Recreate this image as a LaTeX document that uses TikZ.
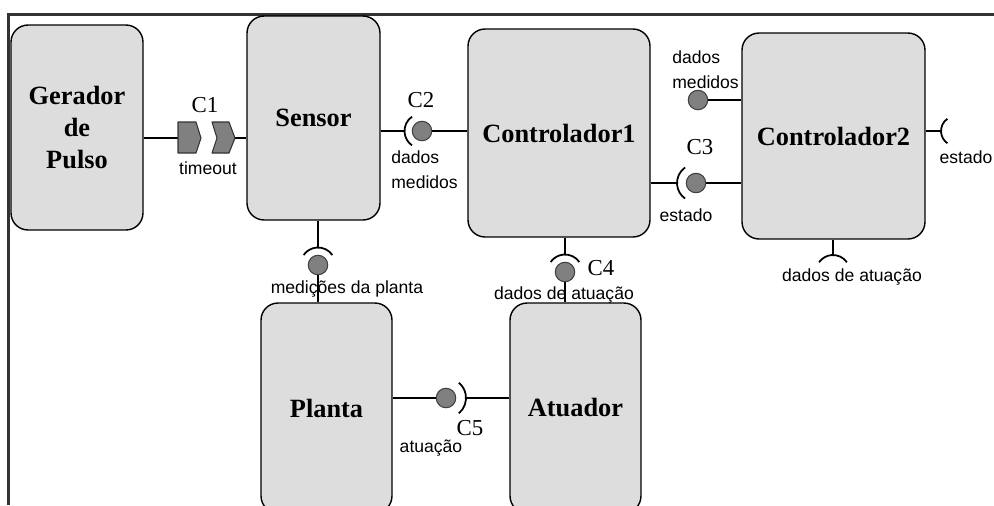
\documentclass[tikz,border=0pt]{standalone}
\usepackage{fontspec}
\setmainfont{Liberation Serif}
\setsansfont{Liberation Sans}
\usepackage{tikz}
\usetikzlibrary{positioning}
\tikzset{
  compbox/.style={draw, rounded corners=0.34cm, line width=0.8pt, fill=gray!27, align=center, inner sep=0pt, font=\fontsize{15}{18}\selectfont\bfseries},
  ball/.style={circle, draw=black!75, fill=black!50, line width=0.6pt, minimum size=0.39cm, inner sep=0pt},
  plug/.style={draw=black!80, fill=black!50, line width=0.6pt, line join=round},
  wire/.style={line width=0.8pt},
  cup/.style={line width=1pt},
  portlabel/.style={font=\sffamily\fontsize{10}{14}\selectfont, inner sep=0pt, align=left},
  connlabel/.style={font=\fontsize{13}{15}\selectfont, inner sep=0pt},
  frameline/.style={line width=1.5pt, black!80}
}

\begin{document}
\begin{tikzpicture}[x=0.02cm, y=-0.02cm]
  \useasboundingbox (0,0) rectangle (994,505);
  \clip (0,0) rectangle (994,505);
  \coordinate (ftl) at (8.5,14.5);
  \coordinate (ftr) at (994,14.5);
  \coordinate (fbl) at (8.5,505);
  \draw[frameline] (ftr) -- (ftl) -- (fbl);

  \node[compbox, minimum width=2.64cm, minimum height=4.1cm] (gerador) at (77,127.5) {Gerador\\de\\Pulso};
  \node[compbox, minimum width=2.66cm, minimum height=4.08cm] (sensor) at (313.5,118) {Sensor};
  \node[compbox, minimum width=3.64cm, minimum height=4.16cm] (ctrlum) at (559,133) {Controlador1};
  \node[compbox, minimum width=3.66cm, minimum height=4.12cm] (ctrldois) at (833.5,136) {Controlador2};
  \node[compbox, minimum width=2.62cm, minimum height=4.2cm] (planta) at (326.5,408) {Planta};
  \node[compbox, minimum width=2.62cm, minimum height=4.2cm] (atuador) at (575.5,408) {Atuador};

  \node[ball] (bdois) at (422,131) {};
  \node[ball] (btres) at (696,183) {};
  \node[ball] (bmed) at (698,100) {};
  \node[ball] (bquatro) at (565,272) {};
  \node[ball] (bplanta) at (318,265) {};
  \node[ball] (bcinco) at (446,398) {};
  \coordinate (cum) at (206,138);
  \coordinate (sestado) at (956,131);
  \coordinate (satua) at (833,272);

  \draw[wire] (gerador.east |- cum) -- ([xshift=-0.56cm]cum);
  \begin{scope}[shift={(cum)}]
    \draw[plug] (-28,-16) -- (-10,-16) -- (-5,0) -- (-10,15) -- (-28,15) -- cycle;
    \draw[plug] (6,-16) -- (23,-16) -- (29,0) -- (23,15) -- (6,15) -- (11,0) -- cycle;
  \end{scope}
  \draw[wire] ([xshift=0.58cm]cum) -- (sensor.west |- cum);

  \draw[wire] (sensor.east |- bdois) -- ([xshift=-0.35cm]bdois.center);
  \draw[cup] ([shift={(125:0.35cm)}]bdois.center) arc[start angle=125, end angle=235, radius=0.35cm];
  \draw[wire] (bdois) -- (ctrlum.west |- bdois);

  \draw[wire] (ctrlum.east |- btres) -- ([xshift=-0.38cm]btres.center);
  \draw[cup] ([shift={(125:0.38cm)}]btres.center) arc[start angle=125, end angle=235, radius=0.38cm];
  \draw[wire] (btres) -- (ctrldois.west |- btres);

  \draw[wire] (bmed) -- (ctrldois.west |- bmed);

  \draw[wire] (ctrldois.east |- sestado) -- ([xshift=-0.3cm]sestado);
  \draw[cup] ([shift={(125:0.3cm)}]sestado) arc[start angle=125, end angle=235, radius=0.3cm];

  \draw[wire] (ctrldois.south -| satua) -- ([yshift=0.34cm]satua);
  \draw[cup] ([shift={(35:0.34cm)}]satua) arc[start angle=35, end angle=145, radius=0.34cm];

  \draw[wire] (sensor.south -| bplanta) -- ([yshift=0.35cm]bplanta.center);
  \draw[cup] ([shift={(35:0.35cm)}]bplanta.center) arc[start angle=35, end angle=145, radius=0.35cm];
  \draw[wire] (bplanta) -- (planta.north -| bplanta);

  \draw[wire] (ctrlum.south -| bquatro) -- ([yshift=0.35cm]bquatro.center);
  \draw[cup] ([shift={(35:0.35cm)}]bquatro.center) arc[start angle=35, end angle=145, radius=0.35cm];
  \draw[wire] (bquatro) -- (atuador.north -| bquatro);

  \draw[wire] (planta.east |- bcinco) -- (bcinco);
  \draw[cup] ([shift={(-50:0.4cm)}]bcinco.center) arc[start angle=-50, end angle=50, radius=0.4cm];
  \draw[wire] ([xshift=0.4cm]bcinco.center) -- (atuador.west |- bcinco);

  \node[connlabel] (lcum) at (205,105) {C1};
  \node[portlabel] (ltimeout) at (208,168) {timeout};
  \node[connlabel] (lcdois) at (421,100) {C2};
  \node[portlabel, anchor=west] (ldmdois) at (391,170) {dados\\medidos};
  \node[connlabel] (lctres) at (700,147) {C3};
  \node[portlabel] (lestado) at (686,215) {estado};
  \node[portlabel, anchor=west] (ldmmed) at (672,70) {dados\\medidos};
  \node[portlabel] (lestadodois) at (966,157) {estado};
  \node[portlabel] (latuadois) at (852,277) {dados de atuação};
  \node[connlabel] (lcquatro) at (601,268) {C4};
  \node[portlabel] (latuaum) at (564,295) {dados de atuação};
  \node[portlabel] (lmedicoes) at (347,289) {medições da planta};
  \node[connlabel] (lccinco) at (470,428) {C5};
  \node[portlabel] (latuacao) at (431,448) {atuação};
\end{tikzpicture}
\end{document}
